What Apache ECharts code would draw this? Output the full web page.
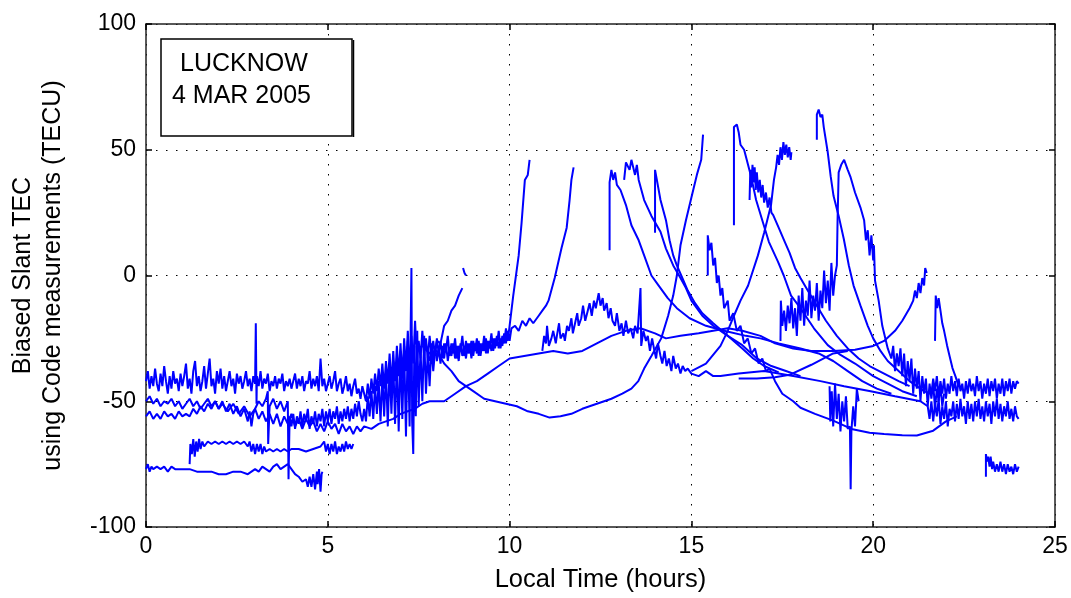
<!DOCTYPE html>
<html>
<head>
<meta charset="utf-8">
<script src="https://cdn.jsdelivr.net/npm/echarts@6/dist/echarts.min.js"></script>
<style>
html,body{margin:0;padding:0;background:#fff;}
#chart{width:1071px;height:598px;}
</style>
</head>
<body>
<div id="chart"></div>
<script>
// ---- axis ticks and texts ----
const xTicks = [0, 5, 10, 15, 20, 25];
const yTicks = [-100, -50, 0, 50, 100];
const xLabel = 'Local Time (hours)';
const yLabel1 = 'Biased Slant TEC';
const yLabel2 = 'using Code measurements (TECU)';
const boxLine1 = 'LUCKNOW';
const boxLine2 = '4 MAR 2005';

// ---- satellite tracks [local time (h), biased slant TEC (TECU)] ----
const trackTopBand = [[0,-42],[0.05,-38],[0.1,-45],[0.15,-40],[0.2,-44],[0.25,-37],[0.3,-43],[0.35,-46],[0.4,-39],[0.45,-44],[0.5,-36],[0.55,-42],[0.6,-47],[0.65,-40],[0.7,-45],[0.75,-38],[0.8,-43],[0.85,-41],[0.9,-46],[0.95,-39],[1.0,-44],
[1.05,-40],[1.1,-35],[1.15,-45],[1.2,-41],[1.25,-47],[1.3,-38],[1.35,-34],[1.4,-44],[1.45,-40],[1.5,-46],[1.55,-42],[1.6,-36],[1.65,-45],[1.7,-39],[1.75,-33],[1.8,-44],[1.85,-41],[1.9,-47],[1.95,-38],[2.0,-43],
[2.05,-37],[2.1,-45],[2.15,-40],[2.2,-46],[2.25,-42],[2.3,-38],[2.35,-44],[2.4,-41],[2.45,-47],[2.5,-39],[2.55,-43],[2.6,-40],[2.65,-45],[2.7,-42],[2.75,-38],[2.8,-44],[2.85,-41],[2.9,-46],[2.95,-40],[3.0,-43],[3.02,-19],[3.04,-51],
[3.05,-40],[3.1,-44],[3.15,-38],[3.2,-45],[3.25,-41],[3.3,-43],[3.35,-39],[3.4,-46],[3.45,-42],[3.5,-44],[3.55,-40],[3.6,-45],[3.65,-41],[3.7,-43],[3.75,-39],[3.8,-46],[3.85,-42],[3.9,-44],[3.95,-41],[4.0,-45],
[4.05,-42],[4.1,-39],[4.15,-45],[4.2,-41],[4.25,-44],[4.3,-40],[4.35,-46],[4.4,-42],[4.45,-43],[4.5,-38],[4.55,-45],[4.6,-41],[4.65,-44],[4.7,-40],[4.75,-46],[4.8,-33],[4.85,-44],[4.9,-41],[4.95,-46],[5.0,-43],
[5.05,-40],[5.1,-45],[5.15,-42],[5.2,-38],[5.25,-46],[5.3,-43],[5.35,-41],[5.4,-47],[5.45,-44],[5.5,-40],[5.55,-46],[5.6,-43],[5.65,-48],[5.7,-44],[5.75,-41],[5.8,-47],[5.85,-45],[5.9,-49],[5.95,-44],[6.0,-47],
[6.05,-50],[6.1,-43],[6.15,-49],[6.2,-41],[6.25,-47],[6.3,-39],[6.35,-46],[6.4,-37],[6.45,-44],[6.5,-35],[6.55,-45],[6.6,-34],[6.65,-43],[6.7,-31],[6.75,-44],[6.8,-30],[6.85,-42],[6.9,-28],[6.95,-40],[7.0,-27],[7.05,-41],[7.1,-25],[7.15,-38],[7.2,-22],[7.25,-36],[7.3,-24],[7.35,-35],[7.4,-18],[7.45,-34],[7.5,-26],[7.55,-33],[7.6,-22],[7.65,-32],[7.7,-25],[7.75,-33],[7.8,-24],[7.85,-31],[7.9,-26],[7.95,-32],[8.0,-25],
[8.05,-31],[8.1,-26],[8.15,-33],[8.2,-27],[8.25,-30],[8.3,-24],[8.35,-32],[8.4,-27],[8.45,-31],[8.5,-25],[8.55,-33],[8.6,-28],[8.65,-30],[8.7,-24],[8.75,-32],[8.8,-26],[8.85,-31],[8.9,-27],[8.95,-33],[9.0,-26],[9.05,-30],[9.1,-25],[9.15,-32],[9.2,-27],[9.25,-30],[9.3,-24],[9.35,-31],[9.4,-26],[9.45,-29],[9.5,-23],[9.55,-30],[9.6,-25],[9.65,-28],[9.7,-22],[9.75,-29],[9.8,-24],[9.85,-27],[9.9,-21],[9.95,-26],[10.0,-20],[10.1,-8],[10.25,8],[10.33,21],[10.42,38],[10.5,40],[10.55,46]];

const trackSlowRise = [[0,-50],[0.1,-48],[0.2,-51],[0.3,-49],[0.4,-52],[0.5,-50],[0.6,-51],[0.7,-49],[0.8,-52],[0.9,-50],[1.0,-53],[1.1,-51],[1.2,-49],[1.3,-52],[1.4,-50],[1.5,-53],[1.6,-51],[1.7,-49],[1.8,-52],[1.9,-50],[2.0,-53],[2.1,-51],[2.25,-54],[2.4,-51],[2.55,-55],[2.7,-52],[2.85,-56],[3.0,-53],[3.1,-57],[3.2,-54],[3.3,-58],[3.4,-55],[3.5,-59],[3.6,-55],[3.7,-60],[3.8,-56],[3.9,-59],[4.0,-55],[4.1,-60],[4.2,-57],[4.3,-61],[4.4,-57],[4.5,-60],[4.6,-58],[4.7,-62],[4.8,-59],[4.9,-62],[5.0,-58],[5.1,-61],[5.2,-59],[5.3,-63],[5.4,-59],[5.5,-62],[5.6,-60],[5.7,-63],[5.8,-60],[5.9,-62],[6.0,-60],[6.2,-61],[6.4,-59],[6.6,-58],[6.8,-57],[7.0,-55],[7.2,-54],[7.4,-53],[7.6,-51],[7.8,-50],[8.2,-50],[8.5,-47],[8.8,-44],[9.1,-42],[9.4,-39],[9.7,-36],[10.0,-33],[10.4,-32],[10.8,-31],[11.2,-30],[11.6,-31],[12.0,-30],[12.4,-27],[12.8,-24],[13.2,-22],[13.6,-21],[14.0,-23],[14.3,-25],[14.7,-24],[15.2,-23],[15.6,-22],[16.0,-21],[16.4,-22],[16.9,-24],[17.3,-27],[17.8,-29],[18.3,-30],[18.9,-30],[19.5,-29.5],[20.0,-28],[20.3,-26],[20.6,-22],[20.8,-18],[21.0,-13],[21.1,-10],[21.15,-6],[21.2,-9],[21.25,-3],[21.3,-7],[21.35,-1],[21.4,-4],[21.43,3],[21.47,1]];

const trackCluster = [[0,-56],[0.1,-54],[0.2,-57],[0.3,-55],[0.4,-57],[0.5,-54],[0.6,-56],[0.7,-55],[0.8,-57],[0.9,-54],[1.0,-56],[1.1,-55],[1.2,-56],[1.3,-53],[1.4,-55],[1.5,-52],[1.6,-54],[1.7,-51],[1.8,-53],[1.9,-50],[2.0,-53],[2.1,-50],[2.2,-54],[2.3,-51],[2.4,-55],[2.5,-52],[2.6,-56],[2.7,-53],[2.8,-58],[2.85,-54],[2.9,-60],[2.95,-55],[3.0,-53],[3.1,-50],[3.2,-52],[3.3,-49],[3.35,-46],[3.36,-67],[3.4,-52],[3.5,-49],[3.6,-53],[3.7,-50],[3.8,-54],[3.9,-50],[3.92,-81],[3.95,-56],[4.0,-60],[4.05,-55],[4.1,-61],[4.15,-56],[4.2,-59],[4.25,-54],[4.3,-60],[4.35,-55],[4.4,-58],[4.45,-53],[4.5,-61],[4.55,-56],[4.6,-59],[4.65,-54],[4.7,-60],[4.75,-55],[4.8,-58],[4.85,-53],[4.9,-60],[4.95,-54],[5.0,-58],[5.05,-53],[5.1,-59],[5.15,-54],[5.2,-57],[5.25,-52],[5.3,-59],[5.35,-54],[5.4,-58],[5.45,-53],[5.5,-57],[5.55,-52],[5.6,-58],[5.65,-53],[5.7,-57],[5.75,-51],[5.8,-56],[5.85,-50],[5.9,-55],[5.95,-58],
[6.0,-53],[6.05,-58],[6.1,-48],[6.15,-56],[6.2,-46],[6.25,-57],[6.3,-44],[6.35,-55],[6.4,-42],[6.45,-58],[6.5,-40],[6.55,-56],[6.6,-38],[6.65,-60],[6.7,-36],[6.75,-55],[6.8,-34],[6.85,-59],[6.9,-33],[6.95,-62],[7.0,-30],[7.05,-57],[7.1,-28],[7.15,-64],[7.2,-26],[7.25,-60],[7.28,-20],[7.3,3],[7.32,-58],[7.35,-71],[7.38,-28],[7.42,-56],[7.46,-22],[7.5,-52],[7.55,-29],[7.6,-50],[7.65,-24],[7.7,-47],[7.75,-30],[7.8,-44],[7.85,-28],[7.9,-38],[7.95,-30],[8.0,-26],[8.1,-27],[8.2,-20],[8.3,-18],[8.4,-14],[8.5,-12],[8.6,-8],[8.7,-5]];

const trackTail = [[8.72,3],[8.76,1],[8.8,0]];

const trackMinus68 = [[1.2,-75],[1.22,-67],[1.26,-71],[1.3,-65],[1.34,-72],[1.38,-66],[1.42,-70],[1.46,-65],[1.5,-69],[1.55,-66],[1.6,-68],[1.7,-66],[1.8,-67],[1.9,-66],[2.0,-67],[2.1,-66],[2.2,-67],[2.3,-66],[2.4,-67],[2.5,-66],[2.6,-67],[2.7,-66],[2.8,-68],[2.85,-66],[2.9,-70],[2.95,-67],[3.0,-71],[3.05,-67],[3.1,-70],[3.15,-67],[3.2,-71],[3.25,-68],[3.3,-70],[3.4,-69],[3.5,-70],[3.6,-69],[3.7,-70],[3.8,-69],[3.9,-70],[4.0,-69],[4.2,-69],[4.4,-70],[4.6,-69],[4.8,-68],[4.9,-66],[4.95,-70],[5.0,-67],[5.05,-71],[5.1,-67],[5.15,-70],[5.2,-66],[5.25,-71],[5.3,-68],[5.35,-70],[5.4,-67],[5.45,-70],[5.5,-66],[5.55,-69],[5.6,-67],[5.65,-69],[5.7,-67]];

const trackMinus77 = [[0,-77],[0.05,-75],[0.1,-78],[0.15,-76],[0.2,-77],[0.3,-76],[0.4,-77],[0.5,-76],[0.6,-78],[0.7,-76],[0.8,-77],[1.0,-77],[1.2,-77],[1.4,-78],[1.6,-78],[1.8,-78],[2.0,-79],[2.2,-79],[2.4,-78],[2.6,-78],[2.8,-79],[3.0,-77],[3.1,-78],[3.2,-76],[3.3,-77],[3.4,-78],[3.5,-76],[3.6,-75],[3.7,-77],[3.8,-76],[3.9,-75],[4.0,-77],[4.1,-79],[4.2,-80],[4.3,-82],[4.4,-81],[4.45,-84],[4.5,-80],[4.55,-84],[4.6,-79],[4.65,-85],[4.7,-78],[4.72,-83],[4.76,-77],[4.8,-86],[4.83,-79],[4.85,-78]];

const trackRise11 = [[7.8,-34],[7.85,-27],[7.9,-33],[7.95,-28],[8.0,-34],[8.05,-29],[8.1,-35],[8.15,-28],[8.2,-33],[8.25,-27],[8.3,-34],[8.35,-29],[8.4,-32],[8.45,-27],[8.5,-33],[8.55,-28],[8.6,-34],[8.65,-27],[8.7,-32],[8.75,-28],[8.8,-33],[8.85,-27],[8.9,-31],[8.95,-26],[9.0,-32],[9.05,-27],[9.1,-31],[9.15,-26],[9.2,-32],[9.25,-27],[9.3,-30],[9.35,-25],[9.4,-31],[9.45,-26],[9.5,-30],[9.55,-25],[9.6,-29],[9.65,-24],[9.7,-29],[9.75,-25],[9.8,-28],[9.85,-23],[9.9,-27],[9.95,-22],[10.0,-26],[10.05,-21],[10.15,-20],[10.25,-22],[10.35,-18],[10.45,-20],[10.55,-17],[10.65,-19],[10.8,-16],[10.9,-14],[11.0,-12],[11.07,-10],[11.24,-1],[11.43,11],[11.57,19],[11.65,30],[11.7,38],[11.76,43]];

const trackU = [[7.6,-28],[7.8,-31],[8.0,-30],[8.2,-35],[8.4,-38],[8.6,-42],[8.8,-44],[9.0,-46],[9.3,-49],[9.6,-50],[9.9,-51],[10.2,-52],[10.5,-54],[10.8,-55],[11.1,-56.5],[11.4,-56],[11.7,-55],[12.0,-53],[12.4,-51],[12.8,-49],[13.1,-47],[13.35,-45],[13.54,-42],[13.7,-37],[13.9,-32],[14.17,-25],[14.36,-16],[14.5,-8],[14.6,0],[14.7,12],[14.85,22],[15.0,31],[15.15,40],[15.27,46],[15.32,56]];

const trackHump = [[10.9,-30],[10.95,-24],[11.0,-27],[11.03,-20],[11.08,-28],[11.15,-25],[11.2,-22],[11.27,-27],[11.3,-24],[11.36,-19],[11.4,-25],[11.48,-23],[11.52,-26],[11.58,-20],[11.63,-22],[11.7,-17],[11.74,-23],[11.8,-19],[11.86,-15],[11.9,-20],[11.97,-17],[12.02,-12],[12.08,-18],[12.15,-14],[12.2,-11],[12.26,-16],[12.32,-10],[12.37,-13],[12.45,-7],[12.5,-12],[12.56,-9],[12.6,-14],[12.67,-11],[12.72,-17],[12.78,-13],[12.83,-18],[12.9,-20],[12.95,-15],[13.02,-22],[13.08,-19],[13.13,-24],[13.2,-18],[13.26,-23],[13.33,-21],[13.4,-25],[13.45,-20],[13.52,-23],[13.6,-5],[13.62,-28],[13.68,-22],[13.75,-26],[13.8,-24],[13.86,-30],[13.92,-25],[13.97,-29],[14.03,-33],[14.08,-27],[14.15,-32],[14.2,-35],[14.26,-30],[14.32,-36],[14.38,-33],[14.45,-38],[14.5,-32],[14.57,-37],[14.63,-35],[14.7,-39],[14.76,-36],[14.83,-38],[14.9,-37],[15.0,-39],[15.2,-40],[15.4,-38],[15.6,-40],[15.8,-40],[16.3,-39],[17.0,-38],[17.8,-40],[18.55,-42],[19.2,-44],[19.93,-46],[20.6,-48],[21.3,-50],
[21.5,-52],[21.55,-57],[21.6,-50],[21.65,-58],[21.7,-51],[21.75,-56],[21.8,-49],[21.85,-59],[21.9,-52],[21.95,-57],[22.0,-50],[22.05,-60],[22.1,-53],[22.15,-56],[22.2,-50],[22.25,-58],[22.3,-51],[22.35,-57],[22.4,-49],[22.45,-56],[22.5,-52],[22.55,-59],[22.6,-50],[22.65,-57],[22.7,-51],[22.75,-58],[22.8,-50],[22.85,-56],[22.9,-49],[22.95,-57],[23.0,-52],[23.05,-58],[23.1,-50],[23.15,-56],[23.2,-51],[23.25,-59],[23.3,-50],[23.35,-56],[23.4,-49],[23.45,-57],[23.5,-51],[23.55,-58],[23.6,-52],[23.65,-56],[23.7,-50],[23.75,-57],[23.8,-53],[23.85,-58],[23.9,-52],[23.95,-56],[24.0,-57]];

const trackDesc1 = [[12.75,10],[12.75,37],[12.8,42],[12.85,38],[12.9,41],[12.95,36],[13.05,34],[13.2,28],[13.35,20],[13.55,14],[13.7,8],[13.9,0],[14.1,-4],[14.35,-9],[14.6,-13],[14.95,-17],[15.4,-20],[15.9,-22],[16.5,-24],[16.9,-25],[17.4,-27],[18.0,-29],[18.5,-31],[18.9,-34],[19.3,-38],[19.7,-42],[20.1,-45],[20.5,-47]];

const trackDesc2 = [[13.15,38],[13.2,45],[13.3,42],[13.35,46],[13.45,40],[13.5,44],[13.55,38],[13.7,30],[13.9,23.7],[14.15,17.4],[14.3,10.7],[14.5,4],[14.7,-1],[14.85,-5],[15.0,-10],[15.3,-16],[15.6,-20],[16.0,-24],[16.4,-27.7],[16.8,-33],[17.2,-36],[17.6,-38],[18.0,-40]];

const trackDesc3 = [[14.0,17],[14.0,42],[14.05,38],[14.15,30],[14.3,22],[14.4,14],[14.5,8],[14.6,4],[14.75,-1],[14.9,-6],[15.1,-11],[15.3,-15],[15.6,-19],[16.0,-24],[16.4,-29],[16.7,-33],[17.0,-36],[17.4,-38.5]];

const trackLowerArc = [[15.45,0],[15.45,16],[15.5,10],[15.55,13],[15.6,4],[15.65,7],[15.7,-3],[15.75,0],[15.8,-8],[15.85,-5],[15.9,-13],[16.0,-10],[16.05,-18],[16.15,-15],[16.25,-22],[16.35,-20],[16.45,-27],[16.55,-25],[16.65,-31],[16.75,-29],[16.85,-35],[16.95,-33],[17.05,-38],[17.15,-37],[17.3,-42],[17.5,-47],[17.8,-50],[18.0,-52.6],[18.4,-55],[18.9,-57.7],[19.4,-61],[19.9,-62.5],[20.3,-63],[20.8,-63.5],[21.2,-63.6],[21.65,-61.7],[22.0,-58],[22.3,-56]];

const trackPeak60 = [[16.17,20],[16.17,59],[16.25,60],[16.3,57],[16.35,52],[16.45,50],[16.64,39.5],[16.78,30],[16.97,21],[17.13,13.4],[17.38,5.5],[17.54,0],[17.74,-8],[18.0,-13],[18.37,-21],[18.75,-27.7],[19.1,-31.6],[19.5,-35],[20.0,-40],[20.4,-43],[20.8,-46],[21.2,-48]];

const trackNoisy166 = [[16.6,30],[16.62,42],[16.65,35],[16.68,44],[16.71,37],[16.74,43],[16.77,34],[16.8,41],[16.84,33],[16.88,38],[16.92,31],[16.96,36],[17.0,29],[17.05,33],[17.1,27],[17.15,31],[17.2,25],[17.25,24],[17.4,19],[17.55,14],[17.7,9],[17.85,3],[18.0,-1],[18.2,-6],[18.45,-12],[18.7,-18],[19.0,-24],[19.3,-29],[19.6,-33],[19.9,-36],[20.3,-39],[20.7,-42],[21.0,-44]];

const trackRise177 = [[15.0,-38],[15.4,-35],[15.8,-28],[16.0,-22],[16.17,-16],[16.35,-10],[16.56,-4],[16.83,8],[17.0,17],[17.19,28],[17.27,38],[17.33,43],[17.37,48],[17.41,44],[17.45,51],[17.49,46],[17.53,53],[17.57,48],[17.61,52],[17.65,47],[17.69,51],[17.73,46],[17.75,49]];

const trackPeak65 = [[18.45,54],[18.45,64],[18.5,66],[18.55,63],[18.6,64],[18.64,59],[18.75,49],[18.83,39.5],[18.91,31.6],[19.05,23.7],[19.19,14.6],[19.33,4],[19.46,-4],[19.65,-12],[19.85,-20],[20.0,-25],[20.2,-30],[20.4,-34],[20.7,-38],[21.0,-42],[21.4,-46],
[21.6,-47],[21.65,-41],[21.7,-46],[21.75,-40],[21.8,-48],[21.85,-42],[21.9,-47],[21.95,-41],[22.0,-49],[22.05,-43],[22.1,-47],[22.15,-40],[22.2,-46],[22.25,-42],[22.3,-48],[22.35,-41],[22.4,-46],[22.45,-43],[22.5,-49],[22.55,-42],[22.6,-47],[22.65,-41],[22.7,-46],[22.75,-43],[22.8,-48],[22.85,-40],[22.9,-46],[22.95,-42],[23.0,-49],[23.05,-43],[23.1,-47],[23.15,-41],[23.2,-48],[23.25,-42],[23.3,-46],[23.35,-41],[23.4,-49],[23.45,-43],[23.5,-47],[23.55,-41],[23.6,-48],[23.65,-42],[23.7,-46],[23.75,-41],[23.8,-47],[23.85,-42],[23.9,-45],[23.95,-42],[24.0,-43]];

const trackPeak46 = [[17.45,-26],[17.46,-10],[17.5,-20],[17.55,-14],[17.6,-22],[17.65,-12],[17.7,-19],[17.75,-9],[17.8,-21],[17.85,-13],[17.9,-24],[17.95,-8],[18.0,-18],[18.05,-5],[18.1,-20],[18.15,-10],[18.2,-16],[18.25,-2],[18.3,-17],[18.35,-8],[18.4,-14],[18.45,-3],[18.5,-18],[18.55,-6],[18.6,-13],[18.65,2],[18.7,-11],[18.75,-2],[18.8,-14],[18.85,5],[18.9,-8],[18.95,0],[19.0,4],[19.02,22],[19.05,41],[19.12,44],[19.2,46],[19.3,42],[19.38,39],[19.5,33],[19.65,27],[19.75,22],[19.8,14],[19.85,18],[19.9,8],[19.95,16],[20.0,6],[20.02,12],[20.05,-2],[20.15,-10],[20.25,-20],[20.4,-29],[20.5,-33],[20.55,-28],[20.6,-38],[20.65,-31],[20.7,-36],[20.75,-29],[20.8,-40],[20.85,-31],[20.9,-44],[20.95,-34],[21.0,-42],[21.05,-33],[21.1,-47],[21.15,-37],[21.2,-45],[21.25,-38],[21.3,-50],[21.35,-40],[21.4,-47],[21.45,-41],[21.5,-52],[21.55,-43],[21.6,-49],[21.65,-43],[21.7,-53],[21.75,-45],[21.8,-50],[21.85,-44],[21.9,-52],[21.95,-47]];

const trackCross = [[16.3,-41],[16.8,-41],[17.3,-40.5],[17.7,-39.5],[18.3,-35.5],[18.9,-31],[19.3,-30]];

const trackSpike194 = [[18.8,-44],[18.82,-58],[18.86,-46],[18.9,-60],[18.95,-43],[19.0,-57],[19.05,-47],[19.1,-62],[19.15,-50],[19.2,-58],[19.25,-48],[19.3,-61],[19.36,-60],[19.38,-85],[19.4,-62],[19.45,-52],[19.5,-60],[19.55,-45],[19.6,-50]];

const trackSpike217 = [[21.7,-26],[21.72,-8],[21.76,-13],[21.8,-9],[21.85,-14],[21.9,-19],[21.95,-22],[22.03,-27.7],[22.1,-32],[22.18,-36.8],[22.26,-40],[22.34,-43.5],[22.5,-46]];

const trackLate = [[23.1,-80],[23.1,-71],[23.13,-74],[23.16,-72],[23.2,-76],[23.23,-72],[23.27,-77],[23.3,-74],[23.35,-78],[23.4,-75],[23.45,-78],[23.5,-74],[23.55,-78],[23.6,-75],[23.65,-79],[23.7,-75],[23.75,-78],[23.8,-76],[23.85,-79],[23.9,-75],[23.95,-78],[24.0,-76]];

const tracks = [trackTopBand, trackSlowRise, trackCluster, trackTail, trackMinus68, trackMinus77, trackRise11, trackU, trackHump, trackDesc1, trackDesc2, trackDesc3, trackLowerArc, trackPeak60, trackNoisy166, trackRise177, trackPeak65, trackPeak46, trackCross, trackSpike194, trackSpike217, trackLate];

const FONT = '"Liberation Sans", Arial, sans-serif';
const chart = echarts.init(document.getElementById('chart'), null, {renderer: 'canvas'});

const gridLine = {show: true, lineStyle: {color: '#000', width: 1, type: [1.5, 8.5]}};
const axisLineStyle = {show: true, onZero: false, lineStyle: {color: '#222', width: 1.5}};
const tickStyle = {show: true, inside: true, length: 6, lineStyle: {color: '#000', width: 1.5}};

const option = {
  animation: false,
  backgroundColor: '#fff',
  grid: {left: 143, right: 16, top: 24, bottom: 68, containLabel: false},
  xAxis: [
    {type: 'value', min: xTicks[0], max: xTicks[xTicks.length-1], interval: 5, position: 'bottom',
     axisLine: axisLineStyle, axisTick: tickStyle,
     axisLabel: {color: '#000', fontFamily: FONT, fontSize: 23, margin: 8},
     splitLine: gridLine,
     name: xLabel, nameLocation: 'middle', nameGap: 40,
     nameTextStyle: {color: '#000', fontFamily: FONT, fontSize: 25.5}},
    {type: 'value', min: xTicks[0], max: xTicks[xTicks.length-1], interval: 5, position: 'top',
     axisLine: axisLineStyle, axisTick: tickStyle,
     axisLabel: {show: false}, splitLine: {show: false}}
  ],
  yAxis: [
    {type: 'value', min: yTicks[0], max: yTicks[yTicks.length-1], interval: 50, position: 'left',
     axisLine: axisLineStyle, axisTick: tickStyle,
     axisLabel: {color: '#000', fontFamily: FONT, fontSize: 23, margin: 10},
     splitLine: gridLine,
     name: yLabel1 + '\n' + yLabel2, nameLocation: 'middle', nameGap: 78, nameRotate: 90,
     nameTextStyle: {color: '#000', fontFamily: FONT, fontSize: 25, lineHeight: 30, align: 'center'}},
    {type: 'value', min: yTicks[0], max: yTicks[yTicks.length-1], interval: 50, position: 'right',
     axisLine: axisLineStyle, axisTick: tickStyle,
     axisLabel: {show: false}, splitLine: {show: false}}
  ],
  graphic: [
    {type: 'rect', shape: {x: 161, y: 39, width: 191, height: 97}, style: {fill: '#fff', stroke: '#000', lineWidth: 1.5}, z: 100},
    {type: 'line', shape: {x1: 353.5, y1: 40, x2: 353.5, y2: 137}, style: {stroke: '#000', lineWidth: 1.5}, z: 100},
    {type: 'text', x: 180, y: 52, style: {text: boxLine1, font: '25px ' + FONT, fill: '#000', verticalAlign: 'top'}, z: 101},
    {type: 'text', x: 172, y: 84, style: {text: boxLine2, font: '25px ' + FONT, fill: '#000', verticalAlign: 'top'}, z: 101}
  ],
  series: tracks.map(function (t) {
    return {type: 'line', data: t, xAxisIndex: 0, yAxisIndex: 0, showSymbol: false, symbol: 'none',
            lineStyle: {color: '#0000ff', width: 2}, silent: true, z: 3};
  })
};
chart.setOption(option);
</script>
</body>
</html>
